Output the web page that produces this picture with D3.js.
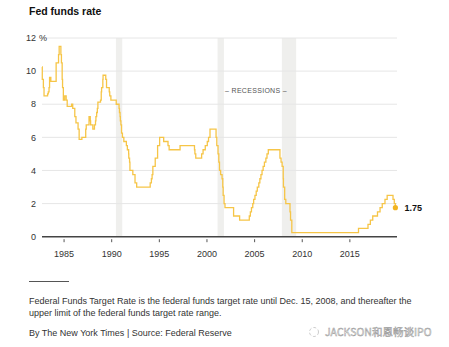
<!DOCTYPE html>
<html>
<head>
<meta charset="utf-8">
<script src="https://cdn.jsdelivr.net/npm/d3@7/dist/d3.min.js"></script>
<style>
  html, body { margin: 0; padding: 0; background: #fff; }
  svg { display: block; font-family: "Liberation Sans", Arial, sans-serif; }
</style>
</head>
<body>
<div class="chart"></div>
<script>
// federal funds target rate: date of each change and the new target (%)
var changeDates = [
  "1982-09-27", "1982-10-08", "1982-11-19", "1982-12-14", "1983-04-29", "1983-05-25",
  "1983-06-24", "1983-07-14", "1983-09-01", "1984-03-22", "1984-06-22", "1984-07-16",
  "1984-09-20", "1984-10-11", "1984-11-08", "1984-11-23", "1984-12-24", "1985-02-14",
  "1985-04-10", "1985-05-20", "1985-08-20", "1985-11-07", "1985-12-18", "1986-03-07",
  "1986-04-21", "1986-07-11", "1986-08-21", "1986-12-04", "1987-04-30", "1987-05-20",
  "1987-09-04", "1987-10-22", "1987-11-04", "1988-01-28", "1988-03-30", "1988-05-09",
  "1988-05-25", "1988-06-22", "1988-07-19", "1988-08-09", "1988-11-17", "1988-12-15",
  "1988-12-29", "1989-02-14", "1989-02-23", "1989-06-06", "1989-07-06", "1989-10-18",
  "1989-11-06", "1989-12-20", "1990-07-13", "1990-10-29", "1990-11-14", "1990-12-07",
  "1990-12-18", "1991-01-08", "1991-02-01", "1991-03-08", "1991-04-30", "1991-08-06",
  "1991-09-13", "1991-10-31", "1991-11-06", "1991-12-06", "1991-12-20", "1992-04-09",
  "1992-07-02", "1992-09-04", "1994-02-04", "1994-03-22", "1994-04-18", "1994-05-17",
  "1994-08-16", "1994-11-15", "1995-02-01", "1995-07-06", "1995-12-19", "1996-01-31",
  "1997-03-25", "1998-09-29", "1998-10-15", "1998-11-17", "1999-06-30", "1999-08-24",
  "1999-11-16", "2000-02-02", "2000-03-21", "2000-05-16", "2001-01-03", "2001-01-31",
  "2001-03-20", "2001-04-18", "2001-05-15", "2001-06-27", "2001-08-21", "2001-09-17",
  "2001-10-02", "2001-11-06", "2001-12-11", "2002-11-06", "2003-06-25", "2004-06-30",
  "2004-08-10", "2004-09-21", "2004-11-10", "2004-12-14", "2005-02-02", "2005-03-22",
  "2005-05-03", "2005-06-30", "2005-08-09", "2005-09-20", "2005-11-01", "2005-12-13",
  "2006-01-31", "2006-03-28", "2006-05-10", "2006-06-29", "2007-09-18", "2007-10-31",
  "2007-12-11", "2008-01-22", "2008-01-30", "2008-03-18", "2008-04-30", "2008-10-08",
  "2008-10-29", "2008-12-16", "2015-12-17", "2016-12-15", "2017-03-16", "2017-06-15",
  "2017-12-14", "2018-03-22", "2018-06-14", "2018-09-27", "2018-12-20", "2019-08-01",
  "2019-09-19", "2019-10-31"
];
var targetRates = [
  10.25, 9.5, 9.0, 8.5, 8.625, 8.75,
  9.0, 9.625, 9.375, 10.5, 11.0, 11.5,
  11.0, 10.5, 9.5, 9.0, 8.25, 8.5,
  8.25, 7.875, 7.875, 8.0, 7.75, 7.25,
  6.875, 6.5, 5.875, 6.0, 6.5, 6.75,
  7.25, 7.0, 6.75, 6.5, 6.75, 7.0,
  7.25, 7.5, 7.75, 8.125, 8.25, 8.75,
  9.0, 9.5, 9.75, 9.5, 9.0, 8.75,
  8.5, 8.25, 8.0, 7.75, 7.5, 7.25,
  7.0, 6.75, 6.25, 6.0, 5.75, 5.5,
  5.25, 5.0, 4.75, 4.5, 4.0, 3.75,
  3.25, 3.0, 3.25, 3.5, 3.75, 4.25,
  4.75, 5.5, 6.0, 5.75, 5.5, 5.25,
  5.5, 5.25, 5.0, 4.75, 5.0, 5.25,
  5.5, 5.75, 6.0, 6.5, 6.0, 5.5,
  5.0, 4.5, 4.0, 3.75, 3.5, 3.0,
  2.5, 2.0, 1.75, 1.25, 1.0, 1.25,
  1.5, 1.75, 2.0, 2.25, 2.5, 2.75,
  3.0, 3.25, 3.5, 3.75, 4.0, 4.25,
  4.5, 4.75, 5.0, 5.25, 4.75, 4.5,
  4.25, 3.5, 3.0, 2.25, 2.0, 1.5,
  1.0, 0.25, 0.5, 0.75, 1.0, 1.25,
  1.5, 1.75, 2.0, 2.25, 2.5, 2.25,
  2.0, 1.75
];

// recessions (start, end)
var recessionStarts = ["1990-07-01", "2001-03-01", "2007-12-01"];
var recessionEnds   = ["1991-03-01", "2001-11-01", "2009-06-01"];

var yTicks = [0, 2, 4, 6, 8, 10, 12];
var xTickYears = [1985, 1990, 1995, 2000, 2005, 2010, 2015];

var width = 449, height = 347;
var margin = { top: 38, right: 52, bottom: 110, left: 42 };
var parse = d3.timeParse("%Y-%m-%d");

var data = changeDates.map(function (d, i) {
    return { date: parse(d), rate: targetRates[i] };
});

var x = d3.scaleTime()
    .domain([parse("1982-09-27"), parse("2020-01-01")])
    .range([margin.left, width - margin.right]);
var y = d3.scaleLinear()
    .domain([0, 12])
    .range([236.7, margin.top]);

var svg = d3.select(".chart").append("svg")
    .attr("width", width)
    .attr("height", height);

// title
svg.append("text")
    .attr("x", 29).attr("y", 15)
    .attr("font-family", "'Liberation Sans Narrow', 'Liberation Sans', sans-serif")
    .attr("font-weight", "bold")
    .attr("font-size", 10.5)
    .attr("fill", "#111")
    .text("Fed funds rate");

// recession bands
var rec_g = svg.append("g").attr("class", "recessions");
for (var r = 0; r < recessionStarts.length; ++r) {
    rec_g.append("rect")
        .attr("x", x(parse(recessionStarts[r])))
        .attr("y", y(12))
        .attr("width", x(parse(recessionEnds[r])) - x(parse(recessionStarts[r])))
        .attr("height", y(0) - y(12))
        .attr("fill", "#efefed");
}

// gridlines
var grid_g = svg.append("g").attr("class", "grid");
grid_g.selectAll("line")
    .data(yTicks.filter(function (d) { return d > 0; }))
    .enter().append("line")
    .attr("x1", margin.left).attr("x2", width - margin.right)
    .attr("y1", function (d) { return y(d); })
    .attr("y2", function (d) { return y(d); })
    .attr("stroke", "#e6e6e6")
    .attr("stroke-width", 1);

// y labels
var ylab = svg.append("g").attr("class", "y-labels")
    .attr("font-size", 9).attr("fill", "#333");
ylab.selectAll("text")
    .data(yTicks)
    .enter().append("text")
    .attr("x", 36)
    .attr("y", function (d) { return y(d); })
    .attr("dy", "0.35em")
    .attr("text-anchor", "end")
    .text(function (d) { return d; });
ylab.append("text")
    .attr("x", 39).attr("y", y(12)).attr("dy", "0.35em")
    .text("%");

svg.append("text")
    .attr("x", 256).attr("y", 93)
    .attr("text-anchor", "middle")
    .attr("font-size", 7)
    .attr("letter-spacing", 0.3)
    .attr("fill", "#555")
    .text("– RECESSIONS –");

// x axis
var xAxis = d3.axisBottom(x)
    .tickValues(xTickYears.map(function (yr) { return new Date(yr, 0, 1); }))
    .tickFormat(d3.timeFormat("%Y"))
    .tickSize(3)
    .tickPadding(8);
var ax = svg.append("g")
    .attr("transform", "translate(0," + (y(0) + 2.5) + ")")
    .call(xAxis);
ax.select(".domain").remove();
ax.selectAll(".tick line").attr("stroke", "#555");
ax.selectAll(".tick text")
    .attr("font-family", "'Liberation Sans', Arial, sans-serif")
    .attr("font-size", 9).attr("fill", "#333");

svg.append("line")
    .attr("x1", margin.left).attr("x2", width - margin.right)
    .attr("y1", y(0)).attr("y2", y(0))
    .attr("stroke", "#444").attr("stroke-width", 1.5);

// rate line
var line = d3.line()
    .curve(d3.curveStepAfter)
    .x(function (d) { return x(d.date); })
    .y(function (d) { return y(d.rate); });
svg.append("path")
    .datum(data)
    .attr("d", line)
    .attr("fill", "none")
    .attr("stroke", "#f6c547")
    .attr("stroke-width", 1.3);

var last = data[data.length - 1];
svg.append("circle")
    .attr("cx", x(last.date)).attr("cy", y(last.rate))
    .attr("r", 2.6)
    .attr("fill", "#f2b421");
svg.append("text")
    .attr("x", x(last.date) + 9).attr("y", y(last.rate)).attr("dy", "0.38em")
    .attr("font-weight", "bold").attr("font-size", 9).attr("fill", "#111")
    .text(last.rate.toFixed(2));

// note and credit
svg.append("line")
    .attr("x1", 29).attr("x2", 69).attr("y1", 281.5).attr("y2", 281.5)
    .attr("stroke", "#555").attr("stroke-width", 1);

var notes = svg.append("g").attr("font-size", 9).attr("fill", "#333");
notes.append("text").attr("x", 29).attr("y", 303.5)
    .text("Federal Funds Target Rate is the federal funds target rate until Dec. 15, 2008, and thereafter the");
notes.append("text").attr("x", 29).attr("y", 315.5)
    .text("upper limit of the federal funds target rate range.");
notes.append("text").attr("x", 29).attr("y", 335.5)
    .text("By The New York Times | Source: Federal Reserve");

// watermark
svg.append("text")
    .attr("x", 325).attr("y", 336)
    .attr("font-family", "'Noto Sans CJK SC', sans-serif")
    .attr("font-size", 10.5)
    .attr("fill", "#fff")
    .attr("stroke", "#999")
    .attr("stroke-width", 0.5)
    .text("JACKSON和恩畅谈IPO");
svg.append("circle")
    .attr("cx", 314).attr("cy", 332).attr("r", 4.5)
    .attr("fill", "none").attr("stroke", "#aaa").attr("stroke-width", 0.6)
    .attr("stroke-dasharray", "3,2");
</script>
</body>
</html>
